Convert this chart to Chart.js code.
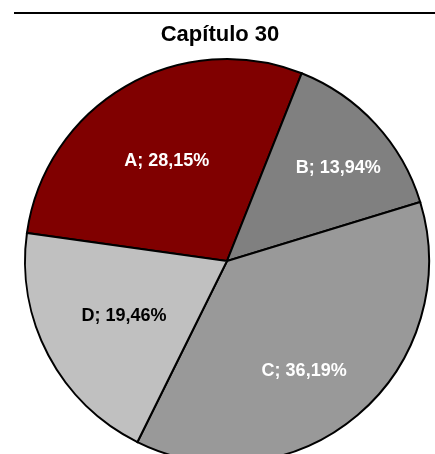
<!DOCTYPE html>
<html>
<head>
<meta charset="utf-8">
<script src="https://cdn.jsdelivr.net/npm/chart.js@4.4.1/dist/chart.umd.min.js"></script>
<style>
  html, body { margin: 0; padding: 0; background: #fff; overflow: hidden; }
  #wrap { width: 435px; height: 480px; position: relative; }
</style>
</head>
<body>
<div id="wrap"><canvas id="c" width="435" height="480"></canvas></div>
<script>
const titleText = 'Capítulo 30';
const categories = ['A', 'B', 'C', 'D'];
const values = [28.15, 13.94, 36.19, 19.46];
const sliceColors = ['#800000', '#808080', '#999999', '#C0C0C0'];
const labelColors = ['#FFFFFF', '#FFFFFF', '#FFFFFF', '#000000'];
const labelRadiusFrac = [0.576, 0.718, 0.667, 0.578];
const labelAngleShift = [-1.0, 2.7, 5.4, -0.3];

function fmt(v) { return v.toFixed(2).replace('.', ','); }

const decor = {
  id: 'decor',
  beforeDraw(chart) {
    const ctx = chart.ctx;
    ctx.save();
    ctx.fillStyle = '#fff';
    ctx.fillRect(0, 0, chart.width, chart.height);
    ctx.strokeStyle = '#000';
    ctx.lineWidth = 2;
    ctx.beginPath();
    ctx.moveTo(14, 13);
    ctx.lineTo(435, 13);
    ctx.stroke();
    ctx.fillStyle = '#000';
    ctx.font = 'bold 22px "Liberation Sans", Arial, sans-serif';
    ctx.textAlign = 'center';
    ctx.textBaseline = 'alphabetic';
    ctx.fillText(titleText, 220, 41);
    ctx.restore();
  },
  afterDatasetsDraw(chart) {
    const ctx = chart.ctx;
    const meta = chart.getDatasetMeta(0);
    ctx.save();
    ctx.font = 'bold 18px "Liberation Sans", Arial, sans-serif';
    ctx.textAlign = 'center';
    ctx.textBaseline = 'middle';
    meta.data.forEach((arc, i) => {
      const p = arc.getProps(['x', 'y', 'startAngle', 'endAngle', 'outerRadius'], true);
      const mid = (p.startAngle + p.endAngle) / 2 + labelAngleShift[i] * Math.PI / 180;
      const r = p.outerRadius * labelRadiusFrac[i];
      const x = p.x + Math.cos(mid) * r;
      const y = p.y + Math.sin(mid) * r;
      ctx.fillStyle = labelColors[i];
      ctx.fillText(categories[i] + '; ' + fmt(values[i]) + '%', x, y);
    });
    ctx.restore();
  }
};

new Chart(document.getElementById('c'), {
  type: 'pie',
  data: {
    labels: categories,
    datasets: [{
      data: values,
      backgroundColor: sliceColors,
      borderColor: '#000000',
      borderWidth: 2,
      borderJoinStyle: 'miter'
    }]
  },
  options: {
    responsive: false,
    animation: false,
    rotation: -82,
    radius: 202,
    layout: { padding: { left: 19, right: 0, top: 60, bottom: 18 } },
    plugins: {
      legend: { display: false },
      title: { display: false },
      tooltip: { enabled: false }
    }
  },
  plugins: [decor]
});
</script>
</body>
</html>
